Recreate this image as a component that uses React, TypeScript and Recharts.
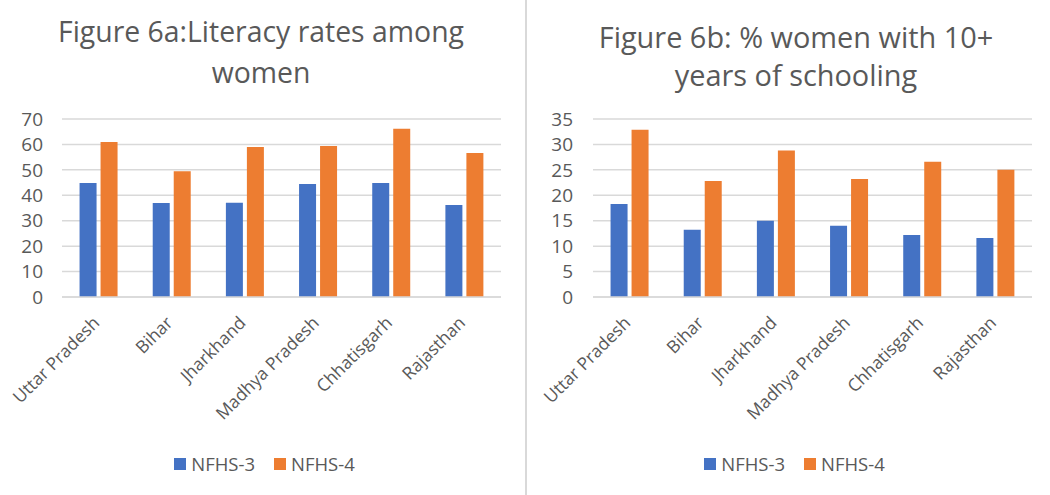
import React from "react";
import { BarChart, Bar, XAxis, YAxis, CartesianGrid, Legend } from "recharts";

const states = ["Uttar Pradesh", "Bihar", "Jharkhand", "Madhya Pradesh", "Chhatisgarh", "Rajasthan"];
const literacyNfhs3 = [44.8, 37.0, 37.1, 44.4, 44.8, 36.2];
const literacyNfhs4 = [61.0, 49.5, 59.0, 59.4, 66.2, 56.6];
const schoolingNfhs3 = [18.3, 13.2, 15.0, 14.0, 12.2, 11.6];
const schoolingNfhs4 = [32.9, 22.8, 28.8, 23.2, 26.6, 25.0];
const literacyTicks = [0, 10, 20, 30, 40, 50, 60, 70];
const schoolingTicks = [0, 5, 10, 15, 20, 25, 30, 35];

const BLUE = "#4472C4";
const ORANGE = "#ED7D31";
const GREY = "#595959";
const FONT = "'Open Sans', sans-serif";

const literacyData = states.map((s, i) => ({ state: s, n3: literacyNfhs3[i], n4: literacyNfhs4[i] }));
const schoolingData = states.map((s, i) => ({ state: s, n3: schoolingNfhs3[i], n4: schoolingNfhs4[i] }));

const XTick = ({ x, y, payload }: any) => {
  const px = x + 2;
  const py = y + 27;
  return (
    <text x={px} y={py} transform={`rotate(-45 ${px} ${py})`} textAnchor="end" fill={GREY} fontSize={17.5} fontFamily={FONT}>
      {payload.value}
    </text>
  );
};

const LegendBox = ({ payload }: any) => (
  <div style={{ display: "flex", justifyContent: "center", fontFamily: FONT, fontSize: 18.5, color: GREY }}>
    {(payload || []).map((p: any, i: number) => (
      <div key={i} style={{ display: "flex", alignItems: "center", marginRight: i === 0 ? 19 : 0 }}>
        <span style={{ width: 12, height: 12, background: p.color, display: "inline-block", marginRight: 5 }} />
        <span>{p.value}</span>
      </div>
    ))}
  </div>
);

function Panel({ data, ticks, width, yWidth, tickGap, rightMargin, legendShift }: any) {
  return (
    <BarChart
      width={width}
      height={495}
      data={data}
      margin={{ top: 119, right: rightMargin, bottom: 0, left: 0 }}
      barCategoryGap="24%"
      barGap={4}
    >
      <CartesianGrid vertical={false} stroke="#d9d9d9" strokeWidth={1.5} />
      <XAxis
        dataKey="state"
        height={198}
        interval={0}
        tickLine={false}
        tickSize={0}
        tickMargin={0}
        axisLine={{ stroke: "#d9d9d9", strokeWidth: 1.5 }}
        tick={<XTick />}
      />
      <YAxis
        width={yWidth}
        domain={[0, ticks[ticks.length - 1]]}
        ticks={ticks}
        interval={0}
        axisLine={false}
        tickLine={false}
        tickSize={0}
        tickMargin={tickGap}
        tick={{ fill: GREY, fontSize: 19, fontFamily: FONT }}
      />
      <Legend
        verticalAlign="middle"
        align="center"
        content={<LegendBox />}
        wrapperStyle={{ top: 451, left: legendShift, width: width }}
      />
      <Bar dataKey="n3" name="NFHS-3" fill={BLUE} isAnimationActive={false} />
      <Bar dataKey="n4" name="NFHS-4" fill={ORANGE} isAnimationActive={false} />
    </BarChart>
  );
}

export default function App() {
  const titleStyle: React.CSSProperties = {
    position: "absolute",
    textAlign: "center",
    fontFamily: FONT,
    color: GREY,
    whiteSpace: "nowrap",
  };
  return (
    <div style={{ position: "absolute", left: 0, top: 0, width: 1050, height: 495, background: "#fff", overflow: "hidden" }}>
      <div style={{ position: "absolute", left: 0, top: 0 }}>
        <Panel data={literacyData} ticks={literacyTicks} width={525} yWidth={62} tickGap={19} rightMargin={24} legendShift={2} />
      </div>
      <div style={{ position: "absolute", left: 527, top: 0 }}>
        <Panel data={schoolingData} ticks={schoolingTicks} width={523} yWidth={66} tickGap={20} rightMargin={18} legendShift={6} />
      </div>
      <div style={{ position: "absolute", left: 525, top: 0, width: 2, height: 495, background: "#d9d9d9" }} />
      <div style={{ ...titleStyle, left: 0, width: 522, top: 11, fontSize: 28.4, lineHeight: "41px" }}>
        Figure 6a:Literacy rates among
        <br />
        women
      </div>
      <div style={{ ...titleStyle, left: 546, width: 500, top: 18, fontSize: 28.9, lineHeight: "38px" }}>
        Figure 6b: % women with 10+
        <br />
        years of schooling
      </div>
    </div>
  );
}
